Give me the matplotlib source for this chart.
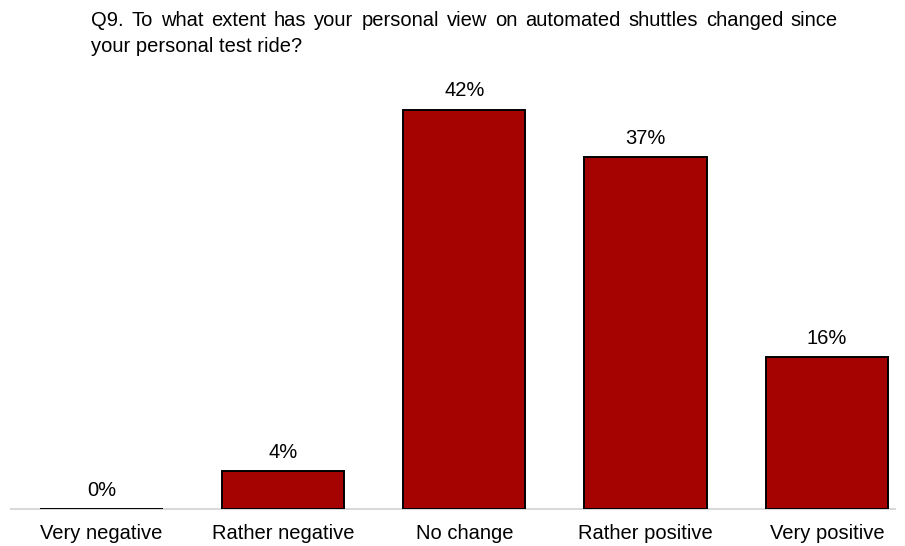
import matplotlib
matplotlib.use("Agg")
import matplotlib.pyplot as plt

categories = ["Very negative", "Rather negative", "No change", "Rather positive", "Very positive"]
shares = [0, 4, 42, 37, 16]
labels = ["0%", "4%", "42%", "37%", "16%"]
title_lines = ["Q9. To what extent has your personal view on automated shuttles changed since",
               "your personal test ride?"]

BAR = "#A50202"
AXIS = "#D9D9D9"

plt.rcParams["font.family"] = ["Liberation Sans", "DejaVu Sans"]

W, H = 905, 546
fig = plt.figure(figsize=(W / 100, H / 100), dpi=100)
# axes placed in pixel terms: baseline at y=509, one category = 181.3 px
left, right, bottom, top = 11, 895, 37, 81
step = 181.3
ax = fig.add_axes([left / W, bottom / H, (right - left) / W, (H - top - bottom) / H])
ax.set_xlim(-0.5, -0.5 + (right - left) / step)
ax.set_ylim(0, 45)

x = range(len(categories))
ax.bar(x, shares, width=0.675, color=BAR, edgecolor="black", linewidth=1.4, zorder=3)
for xi, v, lab in zip(x, shares, labels):
    ax.annotate(lab, (xi, v), xytext=(0, 9.5), textcoords="offset points",
                ha="center", va="baseline", fontsize=14.5)

for s in ("top", "right", "left"):
    ax.spines[s].set_visible(False)
ax.spines["bottom"].set_color(AXIS)
ax.spines["bottom"].set_linewidth(1.5)
ax.set_yticks([])
ax.set_xticks(list(x))
ax.set_xticklabels(categories, fontsize=14.5)
ax.tick_params(axis="x", length=0, pad=10.5)

# title: first line justified between x=91 and x=838, second line left aligned
renderer = fig.canvas.get_renderer()
words = title_lines[0].split()
x0, x1, base1, base2 = 91, 838, 26, 52
objs = [fig.text(0, 0, w, fontsize=14.5, ha="left", va="baseline") for w in words]
widths = [o.get_window_extent(renderer).width for o in objs]
gap = (x1 - x0 - sum(widths)) / (len(words) - 1)
pos = x0
for o, wd in zip(objs, widths):
    o.set_position((pos / W, 1 - base1 / H))
    pos += wd + gap
fig.text(x0 / W, 1 - base2 / H, title_lines[1], fontsize=14.5, ha="left", va="baseline")

fig.savefig("out.png", dpi=100)
